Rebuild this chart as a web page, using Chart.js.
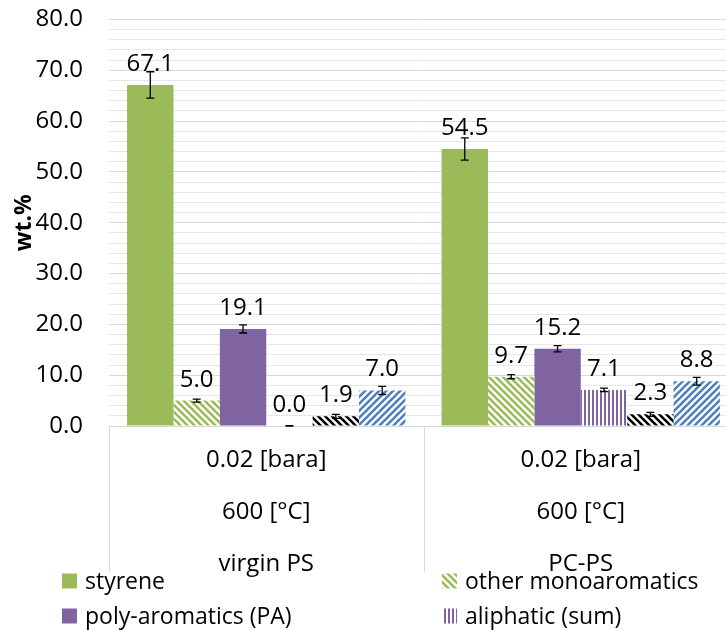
<!DOCTYPE html>
<html>
<head>
<meta charset="utf-8">
<script src="https://cdn.jsdelivr.net/npm/chart.js@4.4.1/dist/chart.umd.min.js"></script>
<style>
  html, body { margin: 0; padding: 0; background: #fff; overflow: hidden; }
  #wrap { position: relative; width: 742px; height: 651px; margin-top: -21px; }
</style>
</head>
<body>
<div id="wrap"><canvas id="c"></canvas></div>
<script>
// ---- data ----
const categories = [
  ['0.02 [bara]', '600 [°C]', 'virgin PS'],
  ['0.02 [bara]', '600 [°C]', 'PC-PS']
];
const seriesNames = ['styrene', 'other monoaromatics', 'poly-aromatics (PA)', 'aliphatic (sum)', 'series 5', 'series 6'];
const styrene = [67.1, 54.5];
const styreneErr = [2.6, 2.2];
const otherMono = [5.0, 9.7];
const otherMonoErr = [0.3, 0.4];
const polyAromatics = [19.1, 15.2];
const polyAromaticsErr = [0.8, 0.6];
const aliphatic = [0.0, 7.1];
const aliphaticErr = [0.05, 0.35];
const series5 = [1.9, 2.3];
const series5Err = [0.4, 0.4];
const series6 = [7.0, 8.8];
const series6Err = [0.8, 0.75];
const yMin = 0, yMax = 80, yMajor = 10, yMinor = 2;
const legendCount = 4;

const FONT = '"Open Sans", "Liberation Sans", sans-serif';

// ---- patterns ----
function diagPattern(color, dir, size, lw) {
  const c = document.createElement('canvas');
  c.width = size; c.height = size;
  const g = c.getContext('2d');
  g.fillStyle = '#fff'; g.fillRect(0, 0, size, size);
  g.strokeStyle = color; g.lineWidth = lw;
  for (let k = -1; k <= 1; k++) {
    g.beginPath();
    if (dir === 'down') { g.moveTo(-1, -1 + k * size); g.lineTo(size + 1, size + 1 + k * size); }
    else { g.moveTo(-1, size + 1 + k * size); g.lineTo(size + 1, -1 + k * size); }
    g.stroke();
  }
  return document.createElement('canvas').getContext('2d').createPattern(c, 'repeat');
}
function vertPattern(color, size, lw) {
  const c = document.createElement('canvas');
  c.width = size; c.height = size;
  const g = c.getContext('2d');
  g.fillStyle = '#fff'; g.fillRect(0, 0, size, size);
  g.fillStyle = color; g.fillRect(0, 0, lw, size);
  return document.createElement('canvas').getContext('2d').createPattern(c, 'repeat');
}

const fills = [
  '#9BBB59',
  diagPattern('#9BBB59', 'down', 7, 2.6),
  '#8064A2',
  vertPattern('#8064A2', 4, 2),
  diagPattern('#000000', 'down', 7, 2.6),
  diagPattern('#4F81BD', 'up', 7, 2.6)
];
const values = [styrene, otherMono, polyAromatics, aliphatic, series5, series6];
const errors = [styreneErr, otherMonoErr, polyAromaticsErr, aliphaticErr, series5Err, series6Err];

const datasets = values.map((v, i) => ({
  label: seriesNames[i],
  data: v,
  errors: errors[i],
  backgroundColor: fills[i],
  borderWidth: 0,
  categoryPercentage: 0.885,
  barPercentage: 1.0
}));

// ---- plugin: error bars, labels, category lines, legend ----
const extras = {
  id: 'extras',
  afterDatasetsDraw(chart) {
    const ctx = chart.ctx;
    const y = chart.scales.y;
    ctx.save();
    chart.data.datasets.forEach((ds, di) => {
      const meta = chart.getDatasetMeta(di);
      meta.data.forEach((bar, i) => {
        const v = ds.data[i], e = ds.errors[i];
        const yt = y.getPixelForValue(v + e), yb = y.getPixelForValue(Math.max(0, v - e));
        ctx.strokeStyle = '#000'; ctx.lineWidth = 1.3;
        ctx.beginPath();
        ctx.moveTo(bar.x, yt); ctx.lineTo(bar.x, yb);
        ctx.moveTo(bar.x - 4, yt); ctx.lineTo(bar.x + 4, yt);
        ctx.moveTo(bar.x - 4, yb); ctx.lineTo(bar.x + 4, yb);
        ctx.stroke();
        ctx.fillStyle = '#000';
        ctx.font = '24px ' + FONT;
        ctx.textAlign = 'center'; ctx.textBaseline = 'alphabetic';
        ctx.fillText(v.toFixed(1), bar.x, bar.y - 14);
      });
    });
    ctx.restore();
  },
  afterDraw(chart) {
    const ctx = chart.ctx;
    const x = chart.scales.x;
    const area = chart.chartArea;
    ctx.save();
    // category boundary lines below the axis
    const n = chart.data.labels.length;
    const catW = (x.right - x.left) / n;
    ctx.strokeStyle = '#d9d9d9'; ctx.lineWidth = 1;
    for (let i = 0; i <= n; i++) {
      const px = Math.round(x.left + i * catW) + 0.5;
      ctx.beginPath(); ctx.moveTo(px, area.bottom); ctx.lineTo(px, area.bottom + 146); ctx.stroke();
    }
    // legend
    const cols = [62, 442], rows = [area.bottom + 155, area.bottom + 190];
    ctx.font = '23px ' + FONT;
    ctx.textAlign = 'left'; ctx.textBaseline = 'middle';
    for (let i = 0; i < legendCount; i++) {
      const cx = cols[i % 2], cy = rows[Math.floor(i / 2)];
      ctx.fillStyle = chart.data.datasets[i].backgroundColor;
      ctx.fillRect(cx, cy - 7.5, 15, 15);
      ctx.fillStyle = '#000';
      ctx.fillText(chart.data.datasets[i].label, cx + 23, cy + 1);
    }
    ctx.restore();
  }
};

new Chart(document.getElementById('c'), {
  type: 'bar',
  data: { labels: categories, datasets },
  options: {
    responsive: true,
    maintainAspectRatio: false,
    animation: false,
    layout: { padding: { top: 17, right: 4, left: 0, bottom: 0 } },
    plugins: { legend: { display: false }, tooltip: { enabled: false } },
    scales: {
      x: {
        grid: { display: false },
        border: { display: false },
        ticks: {
          color: '#000', padding: 0, autoSkip: false, maxRotation: 0,
          font: { family: FONT, size: 24, lineHeight: 2.17 }
        },
        afterFit(s) { s.height = 204; }
      },
      y: {
        min: yMin, max: yMax,
        border: { display: false },
        grid: {
          drawTicks: false,
          color: (c) => (c.tick && c.tick.value % yMajor === 0) ? '#d9d9d9' : '#e6e6e6',
          lineWidth: 1
        },
        ticks: {
          stepSize: yMinor, autoSkip: false, padding: 26, color: '#000',
          font: { family: FONT, size: 24 },
          callback: (v) => (v % yMajor === 0 ? v.toFixed(1) : '')
        },
        title: {
          display: true, text: 'wt.%', color: '#000',
          font: { family: FONT, size: 23, weight: 'bold' },
          padding: { top: 11, bottom: 0 }
        },
        afterFit(s) { s.width = 109; }
      }
    }
  },
  plugins: [extras]
});
</script>
</body>
</html>
